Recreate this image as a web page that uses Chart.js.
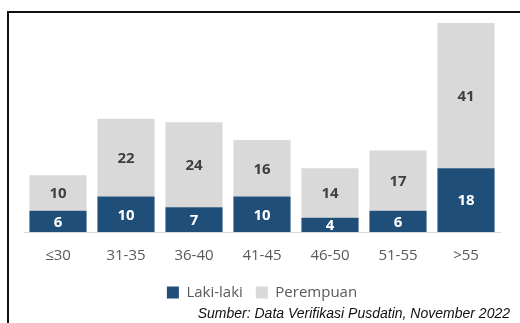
<!DOCTYPE html>
<html lang="id">
<head>
<meta charset="UTF-8">
<title>Laki-laki dan Perempuan per Kelompok Usia</title>
<script src="https://cdn.jsdelivr.net/npm/chart.js"></script>
<style>
  html, body { margin: 0; padding: 0; background: #fff; }
  .kotak { position: relative; width: 520px; height: 323px; overflow: hidden; }
  #grafik { position: absolute; left: 0; top: 0; }
  .garis-atas { position: absolute; left: 7px; top: 11px; width: 513px; height: 2px; background: #111; }
  .garis-kiri { position: absolute; left: 7px; top: 11px; width: 2px; height: 312px; background: #111; }
  .sumber { position: absolute; right: 10px; top: 305px; font: italic 14px "Liberation Sans", Arial, sans-serif; color: #111; }
</style>
</head>
<body>
<div class="kotak">
  <canvas id="grafik" width="520" height="323"></canvas>
  <div class="garis-atas"></div>
  <div class="garis-kiri"></div>
  <div class="sumber">Sumber: Data Verifikasi Pusdatin, November 2022</div>
</div>

<script>
const kelompokUsia = ['≤30', '31-35', '36-40', '41-45', '46-50', '51-55', '>55'];
const lakiLaki = [6, 10, 7, 10, 4, 6, 18];
const perempuan = [10, 22, 24, 16, 14, 17, 41];

// label angka di tengah tiap potongan batang
const labelAngka = {
  id: 'labelAngka',
  afterDatasetsDraw(chart) {
    const ctx = chart.ctx;
    ctx.save();
    ctx.font = 'bold 15px "Open Sans", sans-serif';
    ctx.textAlign = 'center';
    ctx.textBaseline = 'middle';
    chart.data.datasets.forEach((ds, i) => {
      const meta = chart.getDatasetMeta(i);
      ctx.fillStyle = i === 0 ? '#ffffff' : '#404040';
      meta.data.forEach((bar, j) => {
        const tengah = (bar.y + bar.base) / 2;
        ctx.fillText(ds.data[j], bar.x, tengah + 1);
      });
    });
    ctx.restore();
  }
};

new Chart(document.getElementById('grafik').getContext('2d'), {
  type: 'bar',
  data: {
    labels: kelompokUsia,
    datasets: [
      { label: 'Laki-laki', data: lakiLaki, backgroundColor: '#1F4E79' },
      { label: 'Perempuan', data: perempuan, backgroundColor: '#D9D9D9' }
    ]
  },
  options: {
    responsive: false,
    animation: false,
    layout: { padding: { left: 24, right: 20, top: 23, bottom: 13 } },
    datasets: { bar: { categoryPercentage: 1, barPercentage: 0.84 } },
    scales: {
      x: {
        stacked: true,
        grid: { display: false },
        border: { color: '#D9D9D9', width: 1 },
        ticks: { color: '#595959', font: { size: 15, family: '"Open Sans", sans-serif' }, padding: 7 }
      },
      y: {
        stacked: true,
        display: false,
        min: 0,
        max: 59
      }
    },
    plugins: {
      legend: {
        position: 'bottom',
        labels: {
          boxWidth: 12,
          boxHeight: 12,
          color: '#595959',
          padding: 13,
          font: { size: 15, family: '"Open Sans", sans-serif' }
        }
      },
      tooltip: { enabled: false }
    }
  },
  plugins: [labelAngka]
});
</script>
</body>
</html>
